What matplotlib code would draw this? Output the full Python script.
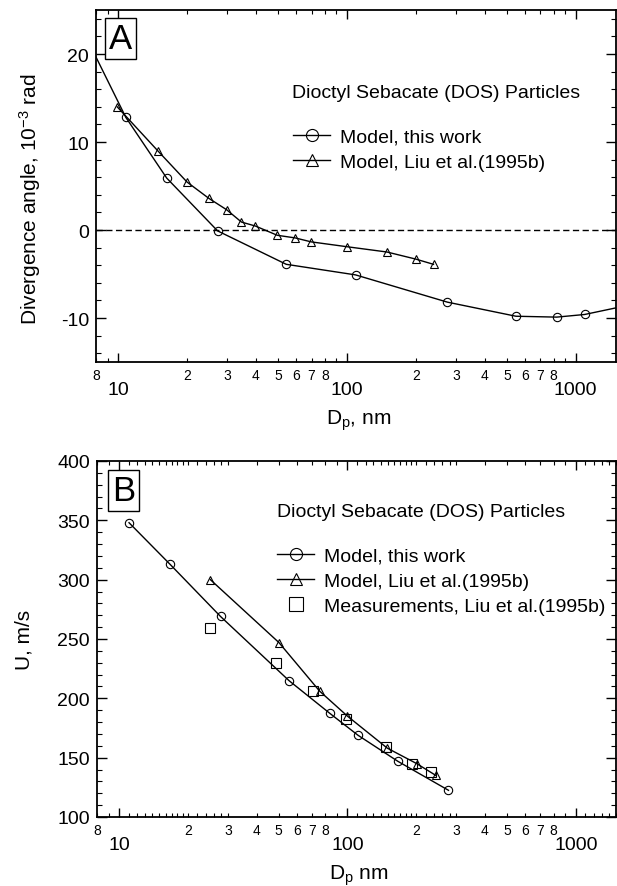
import numpy as np
import matplotlib
matplotlib.use('Agg')
import matplotlib.pyplot as plt
from matplotlib.ticker import FixedLocator, FuncFormatter, MultipleLocator

plt.rcParams['font.family'] = 'Liberation Sans'
plt.rcParams['mathtext.fontset'] = 'custom'
plt.rcParams['mathtext.rm'] = 'Liberation Sans'
plt.rcParams['mathtext.it'] = 'Liberation Sans:italic'
plt.rcParams['axes.unicode_minus'] = False

# panel A: divergence angle (1e-3 rad) vs particle diameter (nm)
dA_model = [7.0, 10.8, 16.3, 27.2, 54.3, 109, 275, 548, 826, 1094, 1700]
angA_model = [22.7, 12.8, 5.9, -0.1, -3.9, -5.1, -8.2, -9.8, -9.9, -9.6, -8.55]
dA_liu = [9.9, 14.9, 20, 24.9, 29.8, 34.6, 39.8, 49.6, 59.4, 69.8, 100, 149.5, 199.5, 239]
angA_liu = [14.0, 9.0, 5.45, 3.6, 2.3, 0.9, 0.45, -0.6, -0.9, -1.35, -1.9, -2.5, -3.3, -3.9]

# panel B: velocity (m/s) vs particle diameter (nm)
dB_model = [11.05, 16.7, 27.8, 55.4, 83.5, 111, 166, 277]
uB_model = [348, 313, 269, 215, 187.5, 169, 147, 122.5]
dB_liu = [25.1, 50.1, 75.6, 100, 149.5, 201, 244]
uB_liu = [300, 247, 206, 185, 158, 145, 135]
dB_meas = [25.1, 48.6, 70.5, 99, 148, 191.5, 232]
uB_meas = [259, 229.5, 206, 183, 159, 145, 138]

title_txt = 'Dioctyl Sebacate (DOS) Particles'
lab_model = 'Model, this work'
lab_liu = 'Model, Liu et al.(1995b)'
lab_meas = 'Measurements, Liu et al.(1995b)'


def minor_label(v, pos):
    m = v / 10 ** np.floor(np.log10(v) + 1e-9)
    r = round(m, 3)
    if r in (2, 3, 4, 5, 6, 7, 8):
        return str(int(r))
    return ''


def setup_xaxis(ax, dense=False):
    ax.set_xscale('log')
    ax.set_xlim(8, 1500)
    ax.xaxis.set_major_locator(FixedLocator([10, 100, 1000]))
    ax.xaxis.set_major_formatter(FuncFormatter(lambda v, p: str(int(round(v)))))
    subs = [2, 3, 4, 5, 6, 7, 8, 9]
    if dense:
        subs = subs + [1.1, 1.2, 1.3, 1.4, 1.5, 1.6, 1.7, 1.8, 1.9, 2.2, 2.4, 2.6, 2.8]
    mins = sorted(s * 10 ** k for k in range(0, 4) for s in subs)
    ax.xaxis.set_minor_locator(FixedLocator(mins))
    ax.xaxis.set_minor_formatter(FuncFormatter(minor_label))
    ax.tick_params(axis='x', which='major', labelsize=14, pad=14, length=6.5, width=1)
    ax.tick_params(axis='x', which='minor', labelsize=10, pad=4, length=3.2, width=0.8)
    ax.tick_params(axis='both', which='both', direction='in', top=True, right=True)
    ax.tick_params(axis='y', which='major', labelsize=14, length=7, width=1, pad=5)
    ax.tick_params(axis='y', which='minor', length=3.5, width=0.8)
    for s in ax.spines.values():
        s.set_linewidth(1.3)


leg_kw = dict(loc='upper left', frameon=False, fontsize=14, borderpad=0, borderaxespad=0,
              handlelength=1.9, handletextpad=0.5, labelspacing=0.38, markerscale=1.45)

fig = plt.figure(figsize=(6.17, 8.87), dpi=100)

# ---- panel A
ax1 = fig.add_axes([96 / 617, 1 - 363 / 887, 520 / 617, 352 / 887])
ax1.plot(dA_model, angA_model, color='black', lw=1.0, marker='o', ms=6, mfc='none',
         mec='black', mew=0.8, markevery=slice(1, -1), label=lab_model)
ax1.plot(dA_liu, angA_liu, color='black', lw=1.0, marker='^', ms=6, mfc='none',
         mec='black', mew=0.8, label=lab_liu)
ax1.axhline(0, color='black', lw=1.0, ls=(0, (4.5, 2.5)))
ax1.set_ylim(-15, 25)
ax1.yaxis.set_major_locator(MultipleLocator(10))
ax1.yaxis.set_minor_locator(MultipleLocator(2))
setup_xaxis(ax1)
ax1.set_xlabel(r'D$\mathregular{_p}$, nm', fontsize=15)
ax1.xaxis.set_label_coords(0.505, -0.128)
ax1.set_ylabel(r'Divergence angle, 10$\mathregular{^{-3}}$ rad', fontsize=15)
ax1.yaxis.set_label_coords(-0.102, 0.466)
ax1.text(0.047, 0.919, 'A', transform=ax1.transAxes, fontsize=25, ha='center', va='center',
         bbox=dict(boxstyle='square,pad=0.12', fc='white', ec='black', lw=1))
ax1.text(0.377, 0.767, title_txt, transform=ax1.transAxes, fontsize=14, ha='left', va='center')
ax1.legend(bbox_to_anchor=(0.379, 0.665), **leg_kw)

# ---- panel B
ax2 = fig.add_axes([97 / 617, 1 - 818 / 887, 519 / 617, 356 / 887])
ax2.plot(dB_model, uB_model, color='black', lw=1.0, marker='o', ms=6, mfc='none',
         mec='black', mew=0.8, label=lab_model)
ax2.plot(dB_liu, uB_liu, color='black', lw=1.0, marker='^', ms=6, mfc='none',
         mec='black', mew=0.8, label=lab_liu)
ax2.plot(dB_meas, uB_meas, ls='none', marker='s', ms=6.5, mfc='none',
         mec='black', mew=0.8, label=lab_meas)
ax2.set_ylim(100, 400)
ax2.yaxis.set_major_locator(MultipleLocator(50))
ax2.yaxis.set_minor_locator(MultipleLocator(10))
setup_xaxis(ax2, dense=True)
ax2.set_xlabel(r'D$\mathregular{_p}$ nm', fontsize=15)
ax2.xaxis.set_label_coords(0.505, -0.128)
ax2.set_ylabel('U, m/s', fontsize=15)
ax2.yaxis.set_label_coords(-0.123, 0.5)
ax2.text(0.051, 0.917, 'B', transform=ax2.transAxes, fontsize=25, ha='center', va='center',
         bbox=dict(boxstyle='square,pad=0.12', fc='white', ec='black', lw=1))
ax2.text(0.347, 0.857, title_txt, transform=ax2.transAxes, fontsize=14, ha='left', va='center')
ax2.legend(bbox_to_anchor=(0.347, 0.758), **leg_kw)

fig.savefig('out.png', dpi=100)
